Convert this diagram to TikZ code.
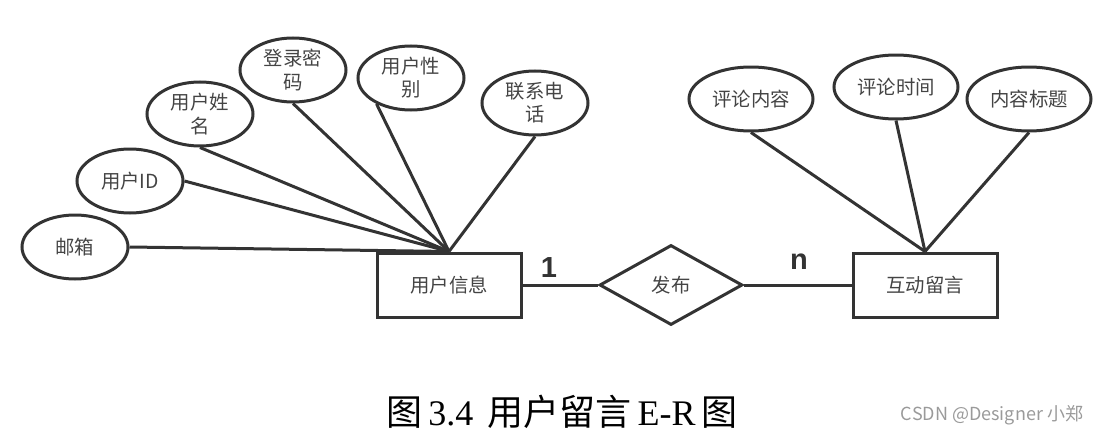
\documentclass[tikz,border=0pt]{standalone}
\usepackage{fontspec}
\setmainfont{Noto Sans CJK SC}
\newfontfamily\latinserif{Liberation Serif}
\newfontfamily\boldsans{Liberation Sans}
\usetikzlibrary{shapes.geometric}
\definecolor{linec}{HTML}{333333}
\definecolor{textc}{HTML}{444444}
\definecolor{wmc}{HTML}{9A9A9A}
\begin{document}
\begin{tikzpicture}[x=0.5pt,y=-0.5pt,
  attr/.style={ellipse,draw=linec,line width=1.5pt,minimum width=53pt,minimum height=32pt,inner sep=0pt,
    font=\fontsize{9.7}{11.6}\selectfont,text=textc,align=center},
  wattr/.style={attr,minimum width=62pt},
  entity/.style={rectangle,draw=linec,line width=1.5pt,minimum width=72pt,minimum height=32pt,inner sep=0pt,
    font=\fontsize{9.7}{11.6}\selectfont,text=textc},
  rel/.style={diamond,draw=linec,line width=1.5pt,minimum width=71.5pt,minimum height=40pt,aspect=1.79,inner sep=0pt,
    font=\fontsize{9.7}{11.6}\selectfont,text=textc},
  conn/.style={draw=linec,line width=1.5pt},
  card/.style={font=\boldsans\bfseries\fontsize{14.5}{16}\selectfont,text=linec,inner sep=0pt}]
\useasboundingbox (0,0) rectangle (1099,439);
% entities
\node[entity] (ui) at (449,285) {用户信息};
\node[entity] (msg) at (925,285) {互动留言};
\node[rel] (fb) at (671,285) {发布};
% attributes of user
\node[attr] (yx) at (75,247) {邮箱};
\node[attr] (id) at (130,181) {用户ID};
\node[attr] (xm) at (200,114) {用户姓\\名};
\node[attr] (mm) at (293,70) {登录密\\码};
\node[attr] (xb) at (411,78) {用户性\\别};
\node[attr] (dh) at (535,103) {联系电\\话};
% attributes of message
\node[wattr] (nr) at (751,99) {评论内容};
\node[wattr] (sj) at (896,87) {评论时间};
\node[wattr] (bt) at (1029,99) {内容标题};
% connectors
\draw[conn] (yx.east) -- (ui.north);
\draw[conn] (id.east) -- (ui.north);
\draw[conn] (xm.south) -- (ui.north);
\draw[conn] (mm.south) -- (ui.north);
\draw[conn] (xb.217) -- (ui.north);
\draw[conn] (dh.south) -- (ui.north);
\draw[conn] (nr.south) -- (msg.north);
\draw[conn] (sj.south) -- (msg.north);
\draw[conn] (bt.south) -- (msg.north);
\draw[conn] (ui.east) -- (fb.west);
\draw[conn] (fb.east) -- (msg.west);
% cardinalities
\node[card] (c1) at (549,268) {1};
\node[card] (cn) at (799,262) {n};
% caption
\node[inner sep=0pt,font=\fontsize{18}{20}\selectfont] (cap) at (562,412)
  {图\,{\latinserif 3.4}\, 用户留言\,{\latinserif E-R}\,图};
\node[inner sep=0pt,text=wmc,font=\fontsize{9}{10}\selectfont] (wm) at (992,415) {CSDN @Designer 小郑};
\end{tikzpicture}
\end{document}
